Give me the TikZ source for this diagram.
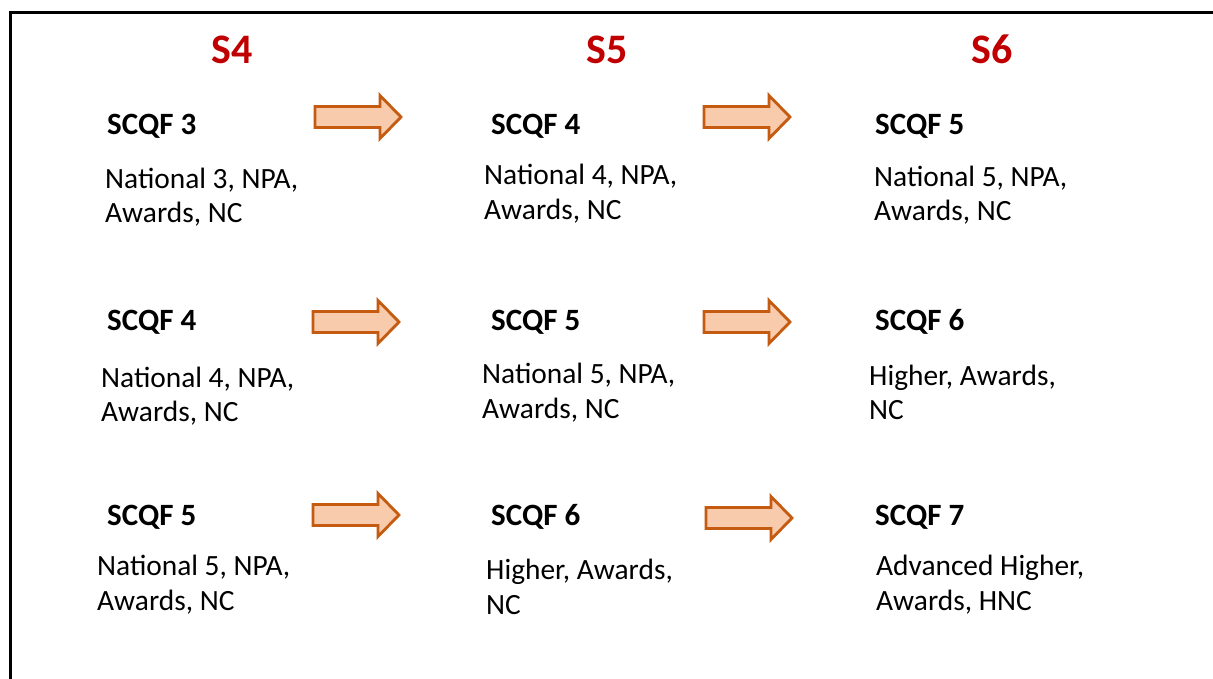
\documentclass[tikz,border=0pt]{standalone}
\usepackage{fontspec}
\setmainfont{Carlito}
\definecolor{yearred}{HTML}{C00000}
\definecolor{arrowfill}{HTML}{F8CBAD}
\definecolor{arrowline}{HTML}{C55A11}

% block arrow: left end x, centre y
\newcommand\progarrow[2]{%
  \draw[blockarrow] (#1,#2) ++(0,-10.5) -- ++(65,0) -- ++(0,-11) -- ++(21,21.5)
    -- ++(-21,21.5) -- ++(0,-11) -- ++(-65,0) -- cycle;}

\begin{document}
\begin{tikzpicture}[x=1pt,y=-1pt,
  yearlabel/.style={font=\fontsize{42}{50}\selectfont\bfseries, text=yearred, anchor=base, inner sep=0pt},
  levellabel/.style={font=\fontsize{31}{36}\selectfont\bfseries, anchor=base west, inner sep=0pt},
  qualline/.style={font=\fontsize{29.4}{34}\selectfont, anchor=base west, inner sep=0pt},
  blockarrow/.style={fill=arrowfill, draw=arrowline, line width=2.8pt, line join=miter}]
\useasboundingbox (0,0) rectangle (1213,679);
\clip (0,0) rectangle (1213,679);

% frame
\draw[line width=3pt] (10.5,800) -- (10.5,13) -- (1300,13);

% year headings
\node[yearlabel] (s4) at (232,64) {S4};
\node[yearlabel] (s5) at (607,64) {S5};
\node[yearlabel] (s6) at (992,64) {S6};

% S4 column
\node[levellabel] (a1) at (107,135) {SCQF 3};
\node[qualline] (a1q1) at (105,189) {National 3, NPA,};
\node[qualline] (a1q2) at (105,223) {Awards, NC};
\node[levellabel] (a2) at (107,330) {SCQF 4};
\node[qualline] (a2q1) at (101,387) {National 4, NPA,};
\node[qualline] (a2q2) at (101,421) {Awards, NC};
\node[levellabel] (a3) at (107,525) {SCQF 5};
\node[qualline] (a3q1) at (97,575) {National 5, NPA,};
\node[qualline] (a3q2) at (97,610) {Awards, NC};

% S5 column
\node[levellabel] (b1) at (491,135) {SCQF 4};
\node[qualline] (b1q1) at (484,185) {National 4, NPA,};
\node[qualline] (b1q2) at (484,220) {Awards, NC};
\node[levellabel] (b2) at (491,330) {SCQF 5};
\node[qualline] (b2q1) at (482,383) {National 5, NPA,};
\node[qualline] (b2q2) at (482,418) {Awards, NC};
\node[levellabel] (b3) at (491,525) {SCQF 6};
\node[qualline] (b3q1) at (486,579) {Higher, Awards,};
\node[qualline] (b3q2) at (486,614) {NC};

% S6 column
\node[levellabel] (c1) at (875,135) {SCQF 5};
\node[qualline] (c1q1) at (874,187) {National 5, NPA,};
\node[qualline] (c1q2) at (874,221) {Awards, NC};
\node[levellabel] (c2) at (875,330) {SCQF 6};
\node[qualline] (c2q1) at (869,385) {Higher, Awards,};
\node[qualline] (c2q2) at (869,419) {NC};
\node[levellabel] (c3) at (875,525) {SCQF 7};
\node[qualline] (c3q1) at (876,575) {Advanced Higher,};
\node[qualline] (c3q2) at (876,610) {Awards, HNC};

% progression arrows
\progarrow{315}{117}
\progarrow{704}{117}
\progarrow{313}{322}
\progarrow{704}{322}
\progarrow{313}{515}
\progarrow{706}{518}
\end{tikzpicture}
\end{document}
